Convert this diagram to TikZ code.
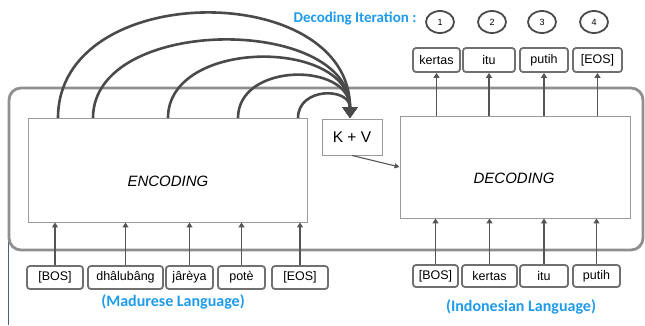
\documentclass[tikz,border=0pt]{standalone}
\usepackage{fontspec}
\setmainfont{Liberation Sans}
\newfontfamily\calib{Carlito}
\usetikzlibrary{arrows.meta,shapes.geometric}

\definecolor{labelblue}{HTML}{1E9BEA}
\definecolor{arcgray}{HTML}{4A4A4A}
\definecolor{tokgray}{HTML}{707070}
\definecolor{arrowgray}{HTML}{555555}
\definecolor{boxgray}{HTML}{9A9A9A}
\definecolor{framegray}{HTML}{8F8F8F}
\definecolor{edgeblue}{HTML}{4A5F8A}

\tikzset{
  tok/.style={draw=tokgray, line width=1.8pt, rounded corners=3pt, fill=white,
    inner sep=0pt, font=\fontsize{12.5}{13}\selectfont},
  blockbox/.style={draw=boxgray, line width=0.9pt, fill=white, inner sep=0pt},
  uparrow/.style={draw=arrowgray, line width=1.4pt, -{Triangle[width=6pt,length=5pt]}},
  attnarc/.style={draw=arcgray, line width=2.6pt, -{Triangle[width=15pt,length=11pt]}},
  iter/.style={draw=arcgray, line width=1.8pt, ellipse, minimum width=28pt,
    minimum height=22pt, inner sep=0pt, font=\fontsize{9}{10}\selectfont},
  bluelabel/.style={text=labelblue, font=\calib\bfseries\fontsize{16}{18}\selectfont, inner sep=0pt}
}

\begin{document}
\begin{tikzpicture}[x=1pt, y=-1pt]
\useasboundingbox (0,0) rectangle (645,325);

% outer frame and its left edge line
\draw[edgeblue, line width=1pt] (8,240) -- (8,325);
\draw[framegray, line width=2.8pt, rounded corners=12pt] (9,88) rectangle (643,250);

% encoder, key/value store, decoder
\node[blockbox, minimum width=279pt, minimum height=104pt] (enc) at (167.5,170) {};
\node[font=\itshape\fontsize{15}{16}\selectfont] (enctext) at (168,181) {ENCODING};
\node[blockbox, minimum width=60pt, minimum height=36pt, font=\fontsize{15.5}{16}\selectfont] (kv) at (352,137) {K + V};
\node[blockbox, minimum width=230pt, minimum height=102pt] (dec) at (515,167) {};
\node[font=\itshape\fontsize{15}{16}\selectfont] (dectext) at (514,178) {DECODING};

\draw[arrowgray, line width=1.1pt, -{Triangle[width=5pt,length=5pt]}] (kv.south) -- (dec.west);

% attention arcs from the encoder into K + V
\coordinate (kvin) at (350,118);
\coordinate (a1) at (58,118);
\coordinate (a2) at (93,118);
\coordinate (a3) at (168,118);
\coordinate (a4) at (238,118);
\coordinate (a5) at (298,118);
\draw[attnarc] (a1) .. controls (58,-21) and (350,-21) .. (kvin);
\draw[attnarc] (a2) .. controls (93,15) and (350,15) .. (kvin);
\draw[attnarc] (a3) .. controls (168,38) and (350,38) .. (kvin);
\draw[attnarc] (a4) .. controls (238,62) and (350,62) .. (kvin);
\draw[attnarc] (a5) .. controls (298,87) and (350,87) .. (kvin);

% source tokens
\node[tok, minimum width=56pt, minimum height=23pt] (lbos) at (55,277.5) {[BOS]};
\node[tok, minimum width=75pt, minimum height=23pt] (ldha) at (125.5,277.5) {dhâlubâng};
\node[tok, minimum width=47pt, minimum height=23pt] (ljar) at (189.5,277.5) {jârèya};
\node[tok, minimum width=47pt, minimum height=23pt] (lpot) at (241.5,277.5) {potè};
\node[tok, minimum width=56pt, minimum height=23pt] (leos) at (300,277.5) {[EOS]};
\foreach \t in {lbos,ldha,ljar,lpot,leos}
  \draw[uparrow] (\t.north) -- (\t.north |- enc.south);
\node[bluelabel] (madlabel) at (173,302) {(Madurese Language)};

% target tokens fed to the decoder
\node[tok, minimum width=45pt, minimum height=22pt] (rbos) at (435.5,276) {[BOS]};
\node[tok, minimum width=55pt, minimum height=22pt] (rker) at (489.5,276) {kertas};
\node[tok, minimum width=48pt, minimum height=22pt] (ritu) at (544,276) {itu};
\node[tok, minimum width=47pt, minimum height=22pt] (rput) at (596.5,276) {putih};
\foreach \t in {rbos,rker,ritu,rput}
  \draw[uparrow] (\t.north) -- (\t.north |- dec.south);
\node[bluelabel] (indlabel) at (521,307) {(Indonesian Language)};

% decoder outputs
\node[tok, minimum width=47pt, minimum height=24pt] (oker) at (436.5,60) {kertas};
\node[tok, minimum width=52pt, minimum height=24pt] (oitu) at (489,60) {itu};
\node[tok, minimum width=48pt, minimum height=24pt] (oput) at (544,60) {putih};
\node[tok, minimum width=49pt, minimum height=24pt] (oeos) at (597.5,60) {[EOS]};
\foreach \t in {oker,oitu,oput,oeos}
  \draw[uparrow] (\t.south |- dec.north) -- (\t.south);

% decoding steps
\node[bluelabel, font=\calib\bfseries\fontsize{15}{17}\selectfont] (itlabel) at (355,18) {Decoding Iteration :};
\node[iter] (i1) at (440,22) {1};
\node[iter] (i2) at (492,22) {2};
\node[iter] (i3) at (542,22) {3};
\node[iter] (i4) at (594,22) {4};
\end{tikzpicture}
\end{document}
